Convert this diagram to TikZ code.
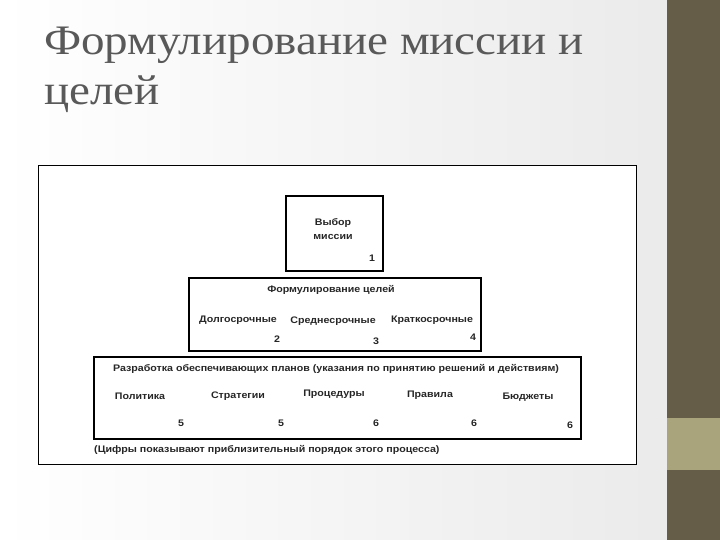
\documentclass[tikz,border=0pt]{standalone}
\usepackage{fontspec}
\setmainfont{Liberation Serif}
\newfontfamily\dg{Liberation Sans}
\begin{document}
\begin{tikzpicture}[x=1pt,y=-1pt,
  bx/.style={draw,line width=1.6pt,fill=white},
  t/.style={font=\dg\bfseries\fontsize{9.5}{11}\selectfont,inner sep=0pt,text=black!85,xscale=1.12,transform shape}]
\useasboundingbox (0,0) rectangle (720,540);
\fill[white] (0,0) rectangle (720,540);
\fill[left color=white,right color=black!8] (0,0) rectangle (667,540);
\fill[fill={rgb,255:red,101;green,93;blue,72}] (667,0) rectangle (720,540);
\fill[fill={rgb,255:red,170;green,164;blue,124}] (667,418) rectangle (720,470);
\node[anchor=west,text=black!65,font=\fontsize{42}{50}\selectfont,align=left,inner sep=0pt,xscale=1.12,transform shape] (title) at (44,70) {Формулирование миссии и\\целей};
\node[draw,line width=1.3pt,fill=white,minimum width=598,minimum height=299,anchor=north west,inner sep=0] (outer) at (38,165) {};
\node[bx,minimum width=97,minimum height=75,anchor=north west,inner sep=0] (m) at (285,195) {};
\node[t,align=center] (mt) at (333,229) {Выбор\\[3pt]миссии};
\node[t] (m1) at (372,258) {1};
\node[bx,minimum width=292,minimum height=73,anchor=north west,inner sep=0] (g) at (188,277) {};
\node[t] (gt) at (331,290) {Формулирование целей};
\node[t] (g1) at (238,320) {Долгосрочные};
\node[t] (g2) at (333,321) {Среднесрочные};
\node[t] (g3) at (432,320) {Краткосрочные};
\node[t] (n2) at (277,339) {2};
\node[t] (n3) at (376,341) {3};
\node[t] (n4) at (473,337) {4};
\node[bx,minimum width=487,minimum height=82,anchor=north west,inner sep=0] (p) at (93,356) {};
\node[t] (pt) at (336,369) {Разработка обеспечивающих планов (указания по принятию решений и действиям)};
\node[t] (p1) at (140,396) {Политика};
\node[t] (p2) at (238,396) {Стратегии};
\node[t] (p3) at (334,394) {Процедуры};
\node[t] (p4) at (430,395) {Правила};
\node[t] (p5) at (528,397) {Бюджеты};
\node[t] (q1) at (181,423) {5};
\node[t] (q2) at (281,423) {5};
\node[t] (q3) at (376,423) {6};
\node[t] (q4) at (474,423) {6};
\node[t] (q5) at (570,425) {6};
\node[t,anchor=west] (foot) at (94,450) {(Цифры показывают приблизительный порядок этого процесса)};
\end{tikzpicture}
\end{document}
